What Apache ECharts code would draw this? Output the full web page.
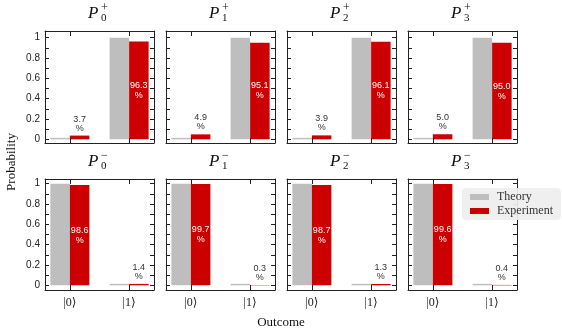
<!DOCTYPE html>
<html><head><meta charset="utf-8">
<script src="https://cdn.jsdelivr.net/npm/echarts@6/dist/echarts.min.js"></script>
<style>html,body{margin:0;padding:0;background:#fff}#c{width:562px;height:332px}</style>
</head><body><div id="c"></div>
<script>
// ---- data ----
const outcomes = ['|0\u27E9', '|1\u27E9'];
const panelIndices = ['0', '1', '2', '3'];
const rowSigns = ['+', '\u2212'];
const theoryPlus = [0, 1];
const theoryMinus = [1, 0];
const expPlus = [[3.7, 96.3], [4.9, 95.1], [3.9, 96.1], [5.0, 95.0]];   // percent
const expMinus = [[98.6, 1.4], [99.7, 0.3], [98.7, 1.3], [99.6, 0.4]]; // percent
const yTickLabels = [0, 0.2, 0.4, 0.6, 0.8, 1];
const yTickMarks = [0, 0.1, 0.2, 0.3, 0.4, 0.5, 0.6, 0.7, 0.8, 0.9, 1];
const xTickMarks = [0, 1];

// ---- layout ----
const panelLeft = [45, 166, 287, 408];
const panelW = 109;
const X_MIN = -0.42, X_MAX = 1.42;
const rows = [
  {top: 31, height: 112, min: -0.036, max: 1.066},
  {top: 179, height: 111, min: -0.046, max: 1.046}
];
const SERIF = '"Liberation Serif","DejaVu Serif",serif';
const SANS = '"Liberation Sans","DejaVu Sans",sans-serif';
const INK = '#222';

const grid = [], xAxis = [], yAxis = [], series = [], title = [], panels = [];
let k = 0;
rows.forEach((row, r) => {
  const theory = r === 0 ? theoryPlus : theoryMinus;
  const exp = r === 0 ? expPlus : expMinus;
  panelLeft.forEach((left, c) => {
    panels.push({k: k, left: left, top: row.top, bottom: row.top + row.height});
    grid.push({left: left, top: row.top, width: panelW, height: row.height, show: false});
    const xBase = {gridIndex: k, type: 'value', min: X_MIN, max: X_MAX,
      axisLine: {show: true, onZero: false, lineStyle: {color: INK, width: 1}}, splitLine: {show: false},
      axisTick: {show: false}};
    xAxis.push(Object.assign({}, xBase, {position: 'bottom',
      axisLabel: {show: r === 1, customValues: xTickMarks.slice(), formatter: v => outcomes[Math.round(v)],
        fontFamily: SERIF, fontSize: 12, color: INK, margin: 7}}));
    xAxis.push(Object.assign({}, xBase, {position: 'top', axisLabel: {show: false}}));
    const yBase = {gridIndex: k, type: 'value', min: row.min, max: row.max,
      axisLine: {show: true, onZero: false, lineStyle: {color: INK, width: 1}}, splitLine: {show: false},
      axisTick: {show: true, inside: true, length: 4, customValues: yTickMarks, lineStyle: {color: INK, width: 1}}};
    yAxis.push(Object.assign({}, yBase, {position: 'left',
      axisLabel: {show: c === 0, customValues: yTickLabels, formatter: v => String(+v.toFixed(1)),
        fontFamily: SANS, fontSize: 10, color: INK, margin: 5}}));
    yAxis.push(Object.assign({}, yBase, {position: 'right', axisLabel: {show: false}}));

    series.push({name: 'Theory', type: 'bar', xAxisIndex: 2 * k, yAxisIndex: 2 * k,
      barWidth: 19.5, barGap: '0%', barMinHeight: 1.5,
      itemStyle: {color: '#bebebe'},
      data: theory.map((v, i) => [i, v])});
    series.push({name: 'Experiment', type: 'bar', xAxisIndex: 2 * k, yAxisIndex: 2 * k,
      barWidth: 19.5, barGap: '0%',
      itemStyle: {color: '#cc0000'},
      data: exp[c].map((p, i) => ({
        value: [i, p / 100],
        label: p > 50
          ? {show: true, position: 'inside', color: '#fff', fontFamily: SANS, fontSize: 9, lineHeight: 10,
             formatter: p.toFixed(1) + '\n%'}
          : {show: true, position: 'top', distance: 3, color: '#333', fontFamily: SANS, fontSize: 9, lineHeight: 9,
             formatter: p.toFixed(1) + '\n%'}
      }))});

    const cx = left + panelW / 2;
    const ty = row.top - 26;
    title.push({text: 'P', left: cx - 11.5, top: ty, padding: 0,
      textStyle: {fontFamily: SERIF, fontStyle: 'italic', fontWeight: 'normal', fontSize: 17, color: '#111'}});
    title.push({text: panelIndices[c], left: cx + 1.5, top: ty + 8, padding: 0,
      textStyle: {fontFamily: SERIF, fontWeight: 'normal', fontSize: 11, color: '#111'}});
    title.push({text: rowSigns[r], left: cx + 1.5, top: ty - 3, padding: 0,
      textStyle: {fontFamily: SERIF, fontWeight: 'normal', fontSize: 12, color: '#111'}});
    k++;
  });
});

const baseGraphic = [
  {type: 'text', x: 12, y: 162, rotation: Math.PI / 2,
    style: {text: 'Probability', align: 'center', verticalAlign: 'middle', font: '13px ' + SERIF, fill: '#111'}},
  {type: 'text', x: 281, y: 323,
    style: {text: 'Outcome', align: 'center', verticalAlign: 'middle', font: '13px ' + SERIF, fill: '#111'}}
];

const chart = echarts.init(document.getElementById('c'), null, {renderer: 'canvas'});
chart.setOption({
  animation: false,
  backgroundColor: '#fff',
  title: title,
  grid: grid, xAxis: xAxis, yAxis: yAxis, series: series,
  legend: {data: ['Theory', 'Experiment'], orient: 'vertical', left: 462, top: 188, z: 10,
    backgroundColor: 'rgba(238,238,238,0.93)', borderRadius: 4, padding: [3, 8, 3, 8],
    itemWidth: 19, itemHeight: 6, itemGap: 2, icon: 'rect',
    textStyle: {fontFamily: SERIF, fontSize: 12, color: '#333', padding: [0, 0, 0, 3]}},
  graphic: baseGraphic
});

// outcome tick marks on the top and bottom frame, placed with the x-axis scale
const tickGraphic = [];
panels.forEach(p => {
  xTickMarks.forEach(v => {
    let pt = null;
    try { pt = chart.convertToPixel({gridIndex: p.k}, [v, 0]); } catch (e) { pt = null; }
    let px = pt && isFinite(pt[0]) ? pt[0] : p.left + (v - X_MIN) / (X_MAX - X_MIN) * panelW;
    px = Math.round(px) + 0.5;
    tickGraphic.push({type: 'line', z: 100, silent: true,
      shape: {x1: px, y1: p.bottom, x2: px, y2: p.bottom - 5}, style: {stroke: INK, lineWidth: 1}});
    tickGraphic.push({type: 'line', z: 100, silent: true,
      shape: {x1: px, y1: p.top, x2: px, y2: p.top + 5}, style: {stroke: INK, lineWidth: 1}});
  });
});
chart.setOption({graphic: baseGraphic.concat(tickGraphic)});
</script></body></html>
